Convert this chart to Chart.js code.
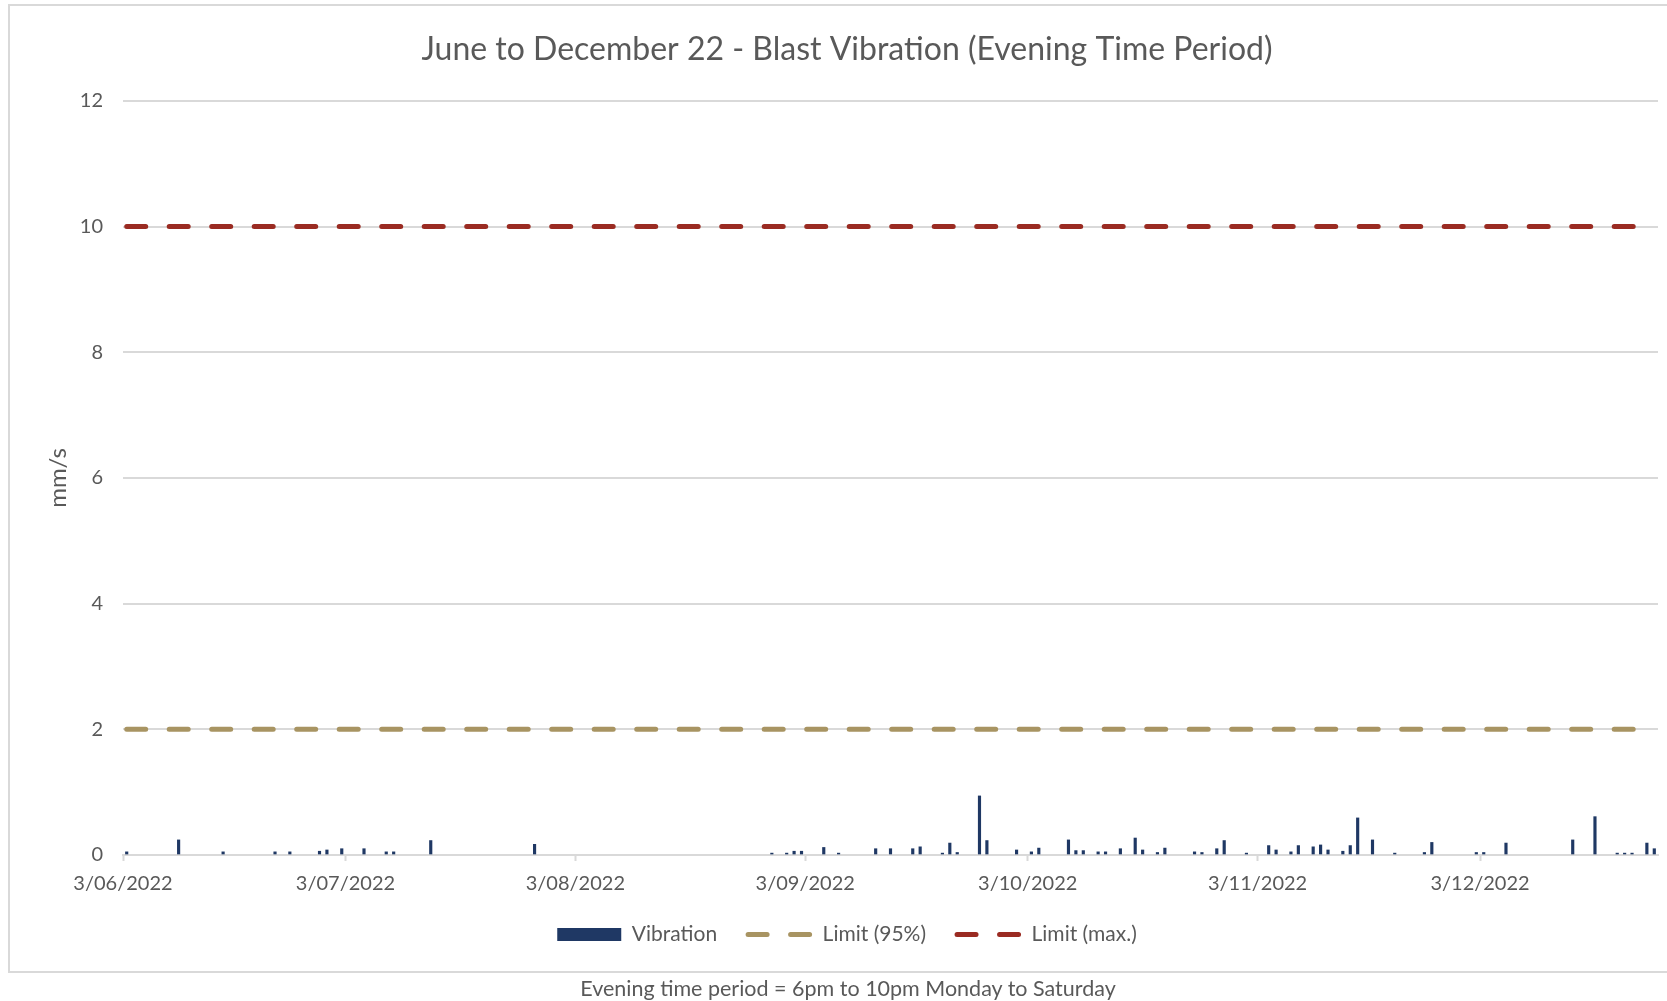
<!DOCTYPE html>
<html>
<head>
<meta charset="utf-8">
<script src="https://cdn.jsdelivr.net/npm/chart.js@4.4.1/dist/chart.umd.min.js"></script>
<style>
  html, body { margin: 0; padding: 0; background: #fff; overflow: hidden; }
  #frame { position: absolute; left: 8px; top: 4px; width: 1700px; height: 969px; border: 2px solid #d9d9d9; box-sizing: border-box; }
  #wrap { position: absolute; left: 0; top: 0; width: 1667px; height: 1001px; }
  #note { position: absolute; left: 0; top: 975px; width: 1696px; text-align: center; font: 21.5px Lato, sans-serif; color: #595959; line-height: 26px; }
</style>
</head>
<body>
<div id="frame"></div>
<div id="wrap"><canvas id="chart" width="1667" height="1001"></canvas></div>
<div id="note">Evening time period = 6pm to 10pm Monday to Saturday</div>
<script>
// blast dates and peak vibration (mm/s)
const vibDates = [
  '2022-06-03', '2022-06-10', '2022-06-16', '2022-06-23', '2022-06-25', '2022-06-29', '2022-06-30',
  '2022-07-02', '2022-07-05', '2022-07-08', '2022-07-09', '2022-07-14', '2022-07-28',
  '2022-08-29', '2022-08-31', '2022-09-01', '2022-09-02', '2022-09-05', '2022-09-07', '2022-09-12',
  '2022-09-14', '2022-09-17', '2022-09-18', '2022-09-21', '2022-09-22', '2022-09-23', '2022-09-26',
  '2022-09-27', '2022-10-01', '2022-10-03', '2022-10-04', '2022-10-08', '2022-10-09', '2022-10-10',
  '2022-10-12', '2022-10-13', '2022-10-15', '2022-10-17', '2022-10-18', '2022-10-20', '2022-10-21',
  '2022-10-25', '2022-10-26', '2022-10-28', '2022-10-29', '2022-11-01', '2022-11-04', '2022-11-05',
  '2022-11-07', '2022-11-08', '2022-11-10', '2022-11-11', '2022-11-12', '2022-11-14', '2022-11-15',
  '2022-11-16', '2022-11-18', '2022-11-21', '2022-11-25', '2022-11-26', '2022-12-02', '2022-12-03',
  '2022-12-06', '2022-12-15', '2022-12-18', '2022-12-21', '2022-12-22', '2022-12-23', '2022-12-25',
  '2022-12-26'
];
const vibValues = [
  0.05, 0.24, 0.05, 0.05, 0.05, 0.06, 0.08,
  0.10, 0.10, 0.05, 0.05, 0.23, 0.17,
  0.03, 0.03, 0.06, 0.06, 0.12, 0.03, 0.10,
  0.10, 0.10, 0.13, 0.03, 0.19, 0.04, 0.94,
  0.23, 0.08, 0.05, 0.11, 0.24, 0.07, 0.07,
  0.05, 0.05, 0.10, 0.27, 0.08, 0.04, 0.11,
  0.05, 0.04, 0.10, 0.23, 0.03, 0.15, 0.08,
  0.05, 0.15, 0.13, 0.16, 0.08, 0.06, 0.15,
  0.59, 0.24, 0.03, 0.04, 0.20, 0.04, 0.04,
  0.19, 0.24, 0.61, 0.03, 0.03, 0.03, 0.19,
  0.10
];

// limit lines
const limitDates = ['2022-06-03', '2022-12-26'];
const limit95 = [2, 2];
const limitMax = [10, 10];

// x axis ticks
const tickDates = ['2022-06-03', '2022-07-03', '2022-08-03', '2022-09-03', '2022-10-03', '2022-11-03', '2022-12-03'];
const tickLabels = ['3/06/2022', '3/07/2022', '3/08/2022', '3/09/2022', '3/10/2022', '3/11/2022', '3/12/2022'];

function dayNum(s) {
  const p = s.split('-').map(Number);
  return Date.UTC(p[0], p[1] - 1, p[2]) / 86400000;
}

const textColor = '#595959';
const gridColor = '#d9d9d9';
const font = 'Lato';
const dash = [19, 23.5];

new Chart(document.getElementById('chart'), {
  type: 'bar',
  data: {
    datasets: [
      {
        label: 'Vibration',
        data: vibDates.map((d, i) => ({ x: dayNum(d), y: vibValues[i] })),
        backgroundColor: '#1f3864',
        barThickness: 2.5,
        order: 0
      },
      {
        type: 'line',
        label: 'Limit (95%)',
        data: limitDates.map((d, i) => ({ x: dayNum(d), y: limit95[i] })),
        borderColor: '#a89462',
        backgroundColor: '#a89462',
        borderWidth: 5,
        borderDash: dash,
        borderCapStyle: 'round',
        pointRadius: 0,
        order: 1
      },
      {
        type: 'line',
        label: 'Limit (max.)',
        data: limitDates.map((d, i) => ({ x: dayNum(d), y: limitMax[i] })),
        borderColor: '#9a2b22',
        backgroundColor: '#9a2b22',
        borderWidth: 5,
        borderDash: dash,
        borderCapStyle: 'round',
        pointRadius: 0,
        order: 2
      }
    ]
  },
  options: {
    responsive: false,
    animation: false,
    devicePixelRatio: 1,
    layout: { padding: { left: 36, right: 9, top: 0, bottom: 46 } },
    plugins: {
      title: {
        display: true,
        text: 'June to December 22 - Blast Vibration (Evening Time Period)',
        color: textColor,
        font: { family: font, size: 32, weight: 'normal' },
        padding: { top: 30, bottom: 32.5 }
      },
      legend: {
        position: 'bottom',
        labels: {
          color: textColor,
          font: { family: font, size: 21 },
          usePointStyle: true,
          pointStyleWidth: 64,
          boxHeight: 13,
          padding: 31,
          generateLabels(chart) {
            const items = Chart.defaults.plugins.legend.labels.generateLabels(chart);
            items.forEach(it => {
              const ds = chart.data.datasets[it.datasetIndex];
              if (ds.type === 'line') {
                it.pointStyle = 'line';
                it.lineWidth = 5;
                it.lineDash = dash;
                it.lineCap = 'round';
                it.strokeStyle = ds.borderColor;
              } else {
                it.pointStyle = 'rect';
                it.lineWidth = 0;
                it.fillStyle = ds.backgroundColor;
              }
            });
            return items;
          }
        }
      },
      tooltip: { enabled: false }
    },
    scales: {
      x: {
        type: 'linear',
        offset: false,
        min: dayNum(limitDates[0]) - 0.5,
        max: dayNum(limitDates[1]) + 0.5,
        afterBuildTicks: axis => {
          axis.ticks = tickDates.map(d => ({ value: dayNum(d) - 0.5 }));
        },
        afterFit: axis => { axis.height = 38; },
        ticks: {
          autoSkip: false,
          maxRotation: 0,
          padding: 11,
          color: textColor,
          font: { family: font, size: 20 },
          callback: (v, i) => tickLabels[i]
        },
        grid: {
          offset: false,
          drawOnChartArea: false,
          drawTicks: true,
          tickLength: 6,
          tickWidth: 2,
          tickColor: gridColor
        },
        border: { color: gridColor, width: 2 }
      },
      y: {
        min: 0,
        max: 12,
        afterFit: axis => { axis.width = 87; },
        ticks: {
          stepSize: 2,
          padding: 20,
          color: textColor,
          font: { family: font, size: 20 }
        },
        grid: { color: gridColor, lineWidth: 2, drawTicks: false },
        border: { display: false },
        title: {
          display: true,
          text: 'mm/s',
          color: textColor,
          font: { family: font, size: 24 },
          padding: { top: 8 }
        }
      }
    }
  }
});
</script>
</body>
</html>
